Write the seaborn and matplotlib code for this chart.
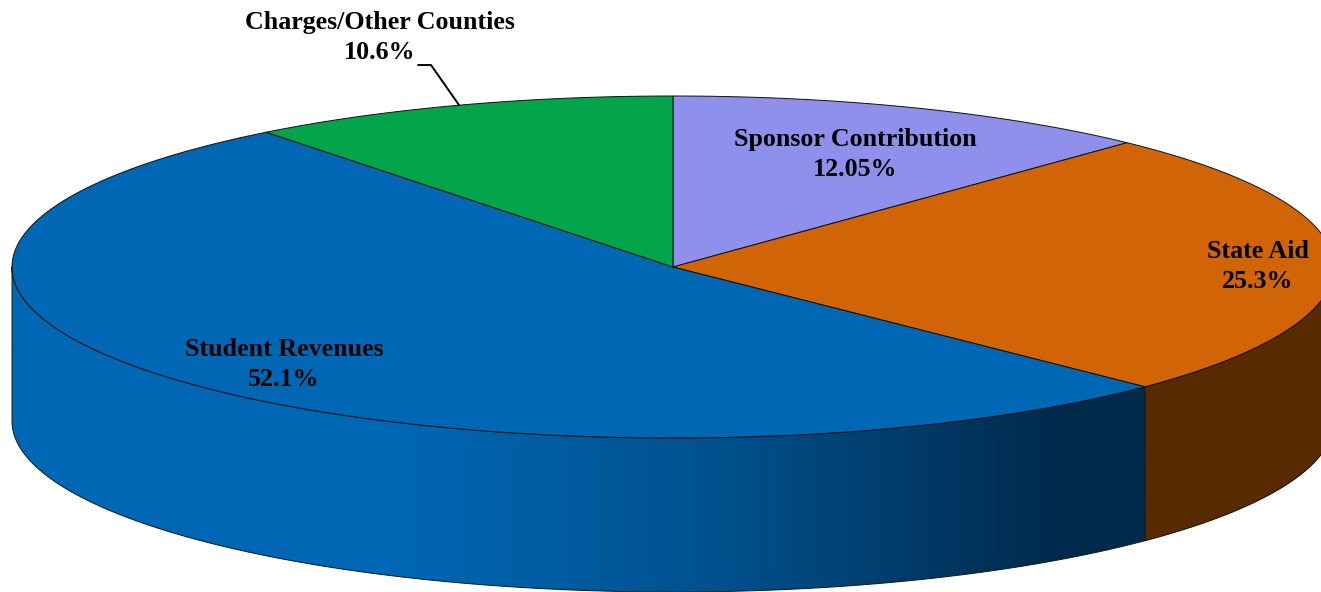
import numpy as np
import matplotlib
matplotlib.use("Agg")
import matplotlib.pyplot as plt
from matplotlib.patches import Polygon
import seaborn as sns

categories = ["Sponsor Contribution", "State Aid", "Student Revenues", "Charges/Other Counties"]
shares = [12.05, 25.3, 52.1, 10.6]
share_labels = ["12.05%", "25.3%", "52.1%", "10.6%"]
top_colors = ["#8F8FEC", "#D26408", "#0067B4", "#02A54A"]
side_colors = {"State Aid": "#582A00"}
gradient_colors = ["#0067B4", "#0067B4", "#00508C", "#002A4C"]

sns.set_theme(style="white")
plt.rcParams["font.family"] = ["Liberation Serif", "DejaVu Serif"]

W, H = 1321, 592
CX, CY, RX, RY, DEPTH = 673, 267, 661, 171, 154
fig = plt.figure(figsize=(W / 100, H / 100), dpi=100)
ax = fig.add_axes([0, 0, 1, 1])
ax.set_xlim(0, W)
ax.set_ylim(H, 0)
ax.axis("off")


def rim(a0, a1, n=300):
    """Points on the top rim, angles in degrees clockwise from 12 o'clock."""
    t = np.radians(np.linspace(a0, a1, n))
    return CX + RX * np.sin(t), CY - RY * np.cos(t)


edges = np.concatenate([[0], np.cumsum(shares)]) * 3.6
edges[-1] = 360

# Side walls of the visible front half
for i, cat in enumerate(categories):
    a0, a1 = max(edges[i], 90), min(edges[i + 1], 270)
    if a1 <= a0:
        continue
    x, y = rim(a0, a1)
    pts = np.r_[np.c_[x, y], np.c_[x[::-1], y[::-1] + DEPTH]]
    if cat in side_colors:
        ax.add_patch(Polygon(pts, closed=True, fc=side_colors[cat], ec="#1a0d00", lw=0.7, zorder=2))
    else:
        cmap = sns.blend_palette(gradient_colors, n_colors=256, as_cmap=True)
        xs = np.arange(W) + 0.5
        grad = np.clip((xs - 60) / (1060 - 60), 0, 1)[None, :]
        poly = Polygon(pts, closed=True, fc="none", ec="#101820", lw=0.7, zorder=3)
        ax.add_patch(poly)
        im = ax.imshow(grad, cmap=cmap, vmin=0, vmax=1, extent=(0, W, H, 0),
                       aspect="auto", zorder=2, interpolation="bilinear")
        im.set_clip_path(poly)
ax.set_xlim(0, W)
ax.set_ylim(H, 0)

# Top face
for i, color in enumerate(top_colors):
    x, y = rim(edges[i], edges[i + 1])
    pts = np.r_[[[CX, CY]], np.c_[x, y]]
    ax.add_patch(Polygon(pts, closed=True, fc=color, ec="#101010", lw=0.7, zorder=4))

# Labels
label_pos = [(855, 154.5), (1258, 266.5), (284, 364.5), (380, 37.5)]
for cat, lab, (lx, ly) in zip(categories, share_labels, label_pos):
    ax.text(lx, ly, f"{cat}\n{lab}", ha="center", va="center", fontsize=18.7,
            fontweight="bold", color="black", linespacing=1.35, zorder=6)
ax.plot([418, 431, 459], [65, 65, 105], color="black", lw=1.4, zorder=6)

fig.savefig("out.png", dpi=100, facecolor="white")
